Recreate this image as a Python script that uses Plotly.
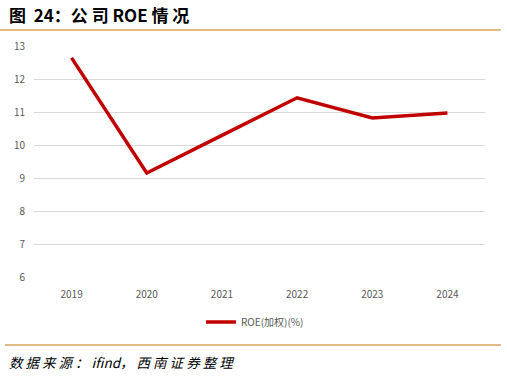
import plotly.graph_objects as go

years = ["2019", "2020", "2021", "2022", "2023", "2024"]
roe = [12.64, 9.15, 10.29, 11.43, 10.82, 10.97]
series_name = "ROE(加权)(%)"
title_text = "<b>图  24：公 司 ROE 情 况</b>"
source_text = "<i>数 据 来 源 ： ifind， 西 南 证 券 整 理</i>"

W, H = 507, 376
L, R, T, B = 34, 22, 46, 99
pw, ph = W - L - R, H - T - B

def px_x(p):
    return (p - L) / pw

def px_y(p):
    return (H - B - p) / ph

fig = go.Figure()
fig.add_trace(go.Scatter(
    x=years, y=roe, mode="lines", name=series_name,
    line=dict(color="#C00000", width=3.5),
))

orange = "#D9A45B"
fig.update_layout(
    width=W, height=H,
    margin=dict(l=L, r=R, t=T, b=B, autoexpand=False),
    paper_bgcolor="white", plot_bgcolor="white",
    font=dict(family="Noto Sans CJK SC, Liberation Sans, sans-serif", color="#595959", size=10),
    showlegend=True,
    legend=dict(orientation="h", x=0.49, xanchor="center", y=px_y(322), yanchor="middle",
                font=dict(size=10, color="#595959"), itemwidth=30),
    xaxis=dict(type="category", range=[-0.5, 5.5], showgrid=False, showline=False,
               ticks="", ticklabelstandoff=10, tickfont=dict(size=10, color="#595959"),
               automargin=False),
    yaxis=dict(range=[6, 13], dtick=1, showgrid=True, gridcolor="#D9D9D9", gridwidth=1,
               zeroline=False, showline=False, ticks="", ticklabelstandoff=8,
               automargin=False, tickfont=dict(size=10, color="#595959")),
    shapes=[
        dict(type="line", xref="paper", yref="paper", x0=px_x(0), x1=px_x(501),
             y0=px_y(30), y1=px_y(30), line=dict(color=orange, width=1.5)),
        dict(type="line", xref="paper", yref="paper", x0=px_x(5), x1=px_x(501),
             y0=px_y(345), y1=px_y(345), line=dict(color=orange, width=1.5)),
    ],
    annotations=[
        dict(text=title_text, xref="paper", yref="paper", x=px_x(7), y=px_y(14),
             xanchor="left", yanchor="middle", showarrow=False,
             font=dict(size=17, color="#000000")),
        dict(text=source_text, xref="paper", yref="paper", x=px_x(7), y=px_y(362),
             xanchor="left", yanchor="middle", showarrow=False,
             font=dict(size=13.5, color="#000000")),
    ],
)

fig.write_html("out.html", config={"displayModeBar": False},
               post_script="document.body.style.margin='0';")
